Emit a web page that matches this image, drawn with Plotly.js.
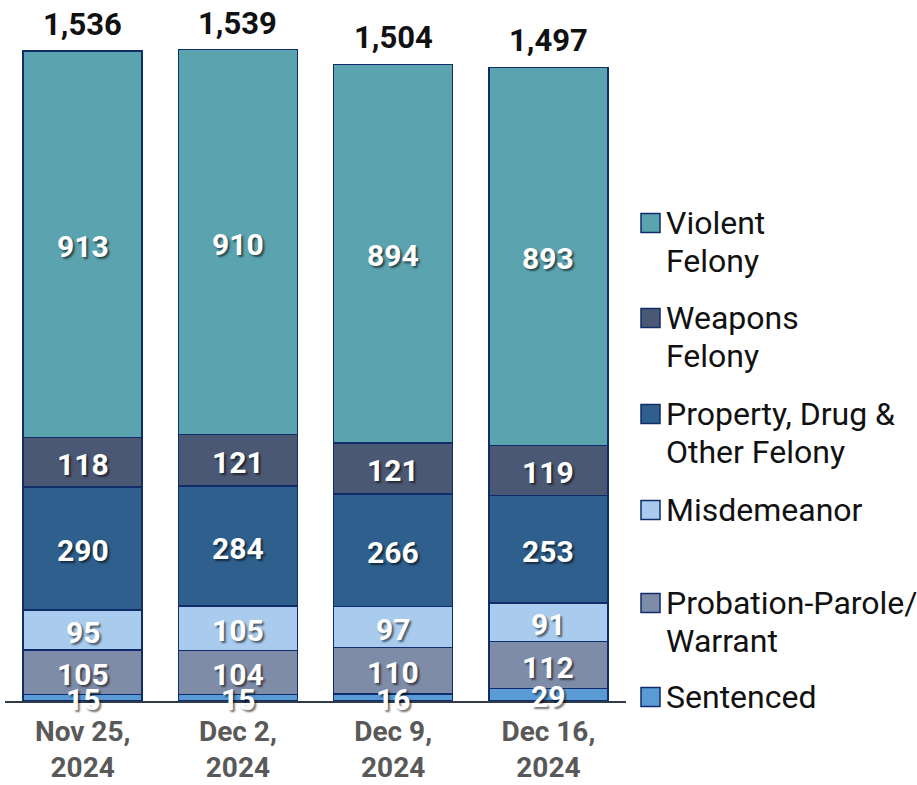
<!DOCTYPE html>
<html>
<head>
<meta charset="utf-8">
<script src="https://cdn.plot.ly/plotly-3.0.1.min.js"></script>
<style>html,body{margin:0;padding:0;background:#fff;}#chart{width:917px;height:785px;}</style>
</head>
<body>
<div id="chart"></div>
<script>
// ---- data ----
const categories = ["Nov 25,<br>2024", "Dec 2,<br>2024", "Dec 9,<br>2024", "Dec 16,<br>2024"];
const sentenced = [15, 15, 16, 29];
const probationParole = [105, 104, 110, 112];
const misdemeanor = [95, 105, 97, 91];
const propertyDrugOther = [290, 284, 266, 253];
const weaponsFelony = [118, 121, 121, 119];
const violentFelony = [913, 910, 894, 893];
const totals = [1536, 1539, 1504, 1497];

const seriesNames = ["Sentenced", "Probation-Parole/<br>Warrant", "Misdemeanor", "Property, Drug &<br>Other Felony", "Weapons<br>Felony", "Violent<br>Felony"];
const seriesValues = [sentenced, probationParole, misdemeanor, propertyDrugOther, weaponsFelony, violentFelony];
const seriesColors = ["#5B9BD5", "#7F8CA8", "#A8CBEE", "#2E5F8D", "#4B5873", "#5BA3AE"];

// ---- layout constants ----
const W = 917, H = 785;
const plotL = 5, plotR = 626, plotT = 0, plotB = 701;
const outline = "#102C6A";
const px2x = p => (p - plotL) / (plotR - plotL);
const px2y = p => (plotB - p) / (plotB - plotT);

const labelFont = {family: "Roboto, sans-serif", size: 30, color: "#ffffff", weight: 700,
                   shadow: "2px 2px 2px rgba(0,0,0,0.55)"};

const traces = seriesValues.map((vals, i) => ({
  type: "bar",
  name: seriesNames[i],
  x: categories,
  y: vals,
  marker: {color: seriesColors[i], line: {color: outline, width: 1.5}},
  hoverinfo: "skip",
  showlegend: false
}));

const annotations = [];
// segment labels at the middle of each stacked segment
categories.forEach((c, j) => {
  let base = 0;
  seriesValues.forEach(vals => {
    annotations.push({
      x: c, y: base + vals[j] / 2, xref: "x", yref: "y",
      text: String(vals[j]), showarrow: false,
      xanchor: "center", yanchor: "middle", yshift: -2,
      font: labelFont
    });
    base += vals[j];
  });
});

categories.forEach((c, i) => annotations.push({
  x: c, y: totals[i], xref: "x", yref: "y",
  text: totals[i].toLocaleString("en-US"),
  showarrow: false, yanchor: "bottom", yshift: 6,
  font: {family: "Roboto, sans-serif", size: 31, color: "#111111", weight: 700}
}));

// manual legend (top to bottom)
const legendCenters = [223, 318, 414, 510, 603, 697];
const lineH = 38;
const shapes = [];
for (let k = 0; k < 6; k++) {
  const idx = 5 - k;
  const cy = legendCenters[k];
  shapes.push({type: "rect", xref: "paper", yref: "paper",
    x0: px2x(641), x1: px2x(660), y0: px2y(cy + 9.5), y1: px2y(cy - 9.5),
    fillcolor: seriesColors[idx], line: {color: outline, width: 1.5}});
  seriesNames[idx].split("<br>").forEach((line, li) => {
    annotations.push({
      xref: "paper", yref: "paper", x: px2x(664), y: px2y(cy + li * lineH),
      xanchor: "left", yanchor: "middle", align: "left",
      text: line, showarrow: false,
      font: {family: "Roboto, sans-serif", size: 32, color: "#111111"}
    });
  });
}

const layout = {
  width: W, height: H,
  margin: {l: plotL, r: W - plotR, t: plotT, b: H - plotB, pad: 0},
  paper_bgcolor: "#ffffff", plot_bgcolor: "#ffffff",
  barmode: "stack", bargap: 0.233,
  showlegend: false,
  xaxis: {
    type: "category", showline: true, linecolor: "#2F3B4A", linewidth: 2,
    ticks: "", showgrid: false, zeroline: false, fixedrange: true,
    ticklabelstandoff: 4,
    tickfont: {family: "Roboto, sans-serif", size: 28, color: "#595959", weight: 700}
  },
  yaxis: {range: [0, 1656], visible: false, showgrid: false, zeroline: false, fixedrange: true},
  annotations: annotations,
  shapes: shapes
};

Plotly.newPlot("chart", traces, layout, {displayModeBar: false, staticPlot: true});
</script>
</body>
</html>
